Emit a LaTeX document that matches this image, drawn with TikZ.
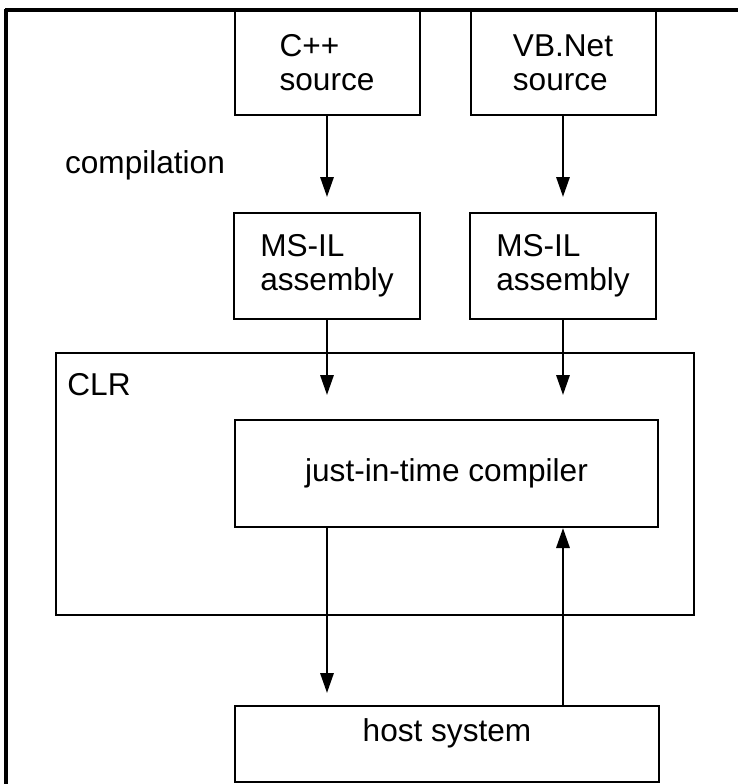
\documentclass[tikz,border=0pt]{standalone}
\usepackage{fontspec}
\setmainfont{Liberation Sans}
\usetikzlibrary{arrows.meta}
\begin{document}
\begin{tikzpicture}[x=0.5pt,y=-0.5pt,
  txt/.style={font=\fontsize{15.8pt}{17pt}\selectfont},
  box/.style={draw, line width=1pt, inner sep=0pt, align=left, txt},
  lbl/.style={inner sep=0pt, txt},
  arr/.style={line width=1.3pt, -{Triangle[length=10pt,width=6.6pt]}},
  frame/.style={line width=1.6pt}]
\useasboundingbox (0,0) rectangle (738,784);
% page frame (top and left edges)
\draw[frame] (5,10) -- (738,10);
\draw[frame] (6,9) -- (6,784);
% boxes
\node[box, minimum width=92.5pt, minimum height=52.5pt] (cpp) at (327,62.5) {C++\\source};
\node[box, minimum width=92.5pt, minimum height=52.5pt] (vb) at (563,62.5) {VB.Net\\source};
\node[box, minimum width=93pt, minimum height=53pt] (ms1) at (327,266) {MS-IL\\assembly};
\node[box, minimum width=93pt, minimum height=53pt] (ms2) at (563,266) {MS-IL\\assembly};
\node[box, minimum width=319pt, minimum height=131pt] (clr) at (375,484) {};
\node[box, minimum width=211.5pt, minimum height=53.5pt] (jit) at (446.5,473.5) {just-in-time compiler};
\node[box, minimum width=212pt, minimum height=38pt] (host) at (447,744) {};
\node[lbl] (hostt) at (447,733) {host system};
\node[lbl] (comp) at (145,165) {compilation};
\node[lbl, anchor=west] (clrt) at (67,385) {CLR};
% arrow end points
\coordinate (t1) at (327,197);
\coordinate (t2) at (563,197);
\coordinate (t3) at (327,395);
\coordinate (t4) at (563,395);
\coordinate (t5) at (327,693);
% connectors
\draw[arr] (cpp.south) -- (t1);
\draw[arr] (vb.south) -- (t2);
\draw[arr] (ms1.south) -- (t3);
\draw[arr] (ms2.south) -- (t4);
\draw[arr] (jit.south -| t5) -- (t5);
\draw[arr] (host.north -| ms2) -- (jit.south -| ms2);
\end{tikzpicture}
\end{document}
